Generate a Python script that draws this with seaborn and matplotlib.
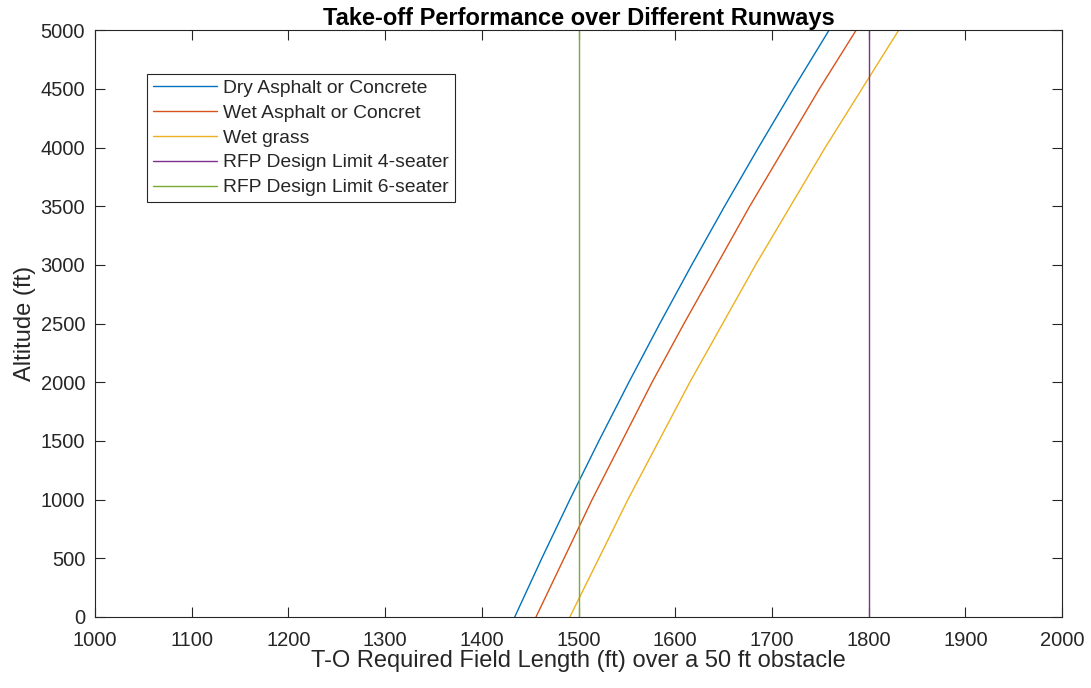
import matplotlib
matplotlib.use("Agg")
import matplotlib.pyplot as plt
import numpy as np
import pandas as pd
import seaborn as sns

# Altitude stations (ft)
altitude = [0, 500, 1000, 1500, 2000, 2500, 3000, 3500, 4000, 4500, 5000]

# Required take-off field length over a 50 ft obstacle (ft)
dry_asphalt = [1434, 1462, 1491, 1521, 1552, 1584, 1617, 1651, 1686, 1722, 1759]
wet_asphalt = [1456, 1485, 1514, 1545, 1576, 1609, 1643, 1677, 1713, 1749, 1787]
wet_grass = [1491, 1521, 1551, 1583, 1615, 1649, 1683, 1719, 1755, 1793, 1831]

# RFP design limits (ft)
limit_4_seater = 1800
limit_6_seater = 1500

series_names = [
    "Dry Asphalt or Concrete",
    "Wet Asphalt or Concret",
    "Wet grass",
    "RFP Design Limit 4-seater",
    "RFP Design Limit 6-seater",
]
colors = ["#0072BD", "#D95319", "#EDB120", "#7E2F8E", "#77AC30"]

frames = [
    pd.DataFrame({"length": dry_asphalt, "alt": altitude, "series": series_names[0]}),
    pd.DataFrame({"length": wet_asphalt, "alt": altitude, "series": series_names[1]}),
    pd.DataFrame({"length": wet_grass, "alt": altitude, "series": series_names[2]}),
    pd.DataFrame({"length": [limit_4_seater] * 2, "alt": [0, 5000], "series": series_names[3]}),
    pd.DataFrame({"length": [limit_6_seater] * 2, "alt": [0, 5000], "series": series_names[4]}),
]
df = pd.concat(frames, ignore_index=True)

sns.set_theme(style="white")
plt.rcParams["font.family"] = ["Liberation Sans", "DejaVu Sans"]

fig = plt.figure(figsize=(10.91, 6.88), dpi=100)
ax = fig.add_axes([0.087, 0.1032, 0.8866, 0.8530])

sns.lineplot(
    data=df, x="length", y="alt", hue="series", hue_order=series_names,
    palette=colors, estimator=None, sort=False, linewidth=1.0, ax=ax,
)

ax.set_xlim(1000, 2000)
ax.set_ylim(0, 5000)
ax.set_xticks(np.arange(1000, 2001, 100))
ax.set_yticks(np.arange(0, 5001, 500))

ax.set_title("Take-off Performance over Different Runways",
             fontsize=17, fontweight="bold", color="black", pad=4)
ax.set_xlabel("T-O Required Field Length (ft) over a 50 ft obstacle",
              fontsize=17, color="#262626", labelpad=0)
ax.set_ylabel("Altitude (ft)", fontsize=17, color="#262626", labelpad=3)

ax.tick_params(axis="both", which="major", direction="in", length=7, width=0.8,
               colors="#262626", labelsize=14.5, bottom=True, left=True,
               top=True, right=True, labelcolor="#262626")
ax.tick_params(axis="x", pad=10)
ax.tick_params(axis="y", pad=7)
for side in ax.spines.values():
    side.set_color("#262626")
    side.set_linewidth(0.8)

handles, labels = ax.get_legend_handles_labels()
leg = ax.legend(
    handles, labels, loc="upper left", bbox_to_anchor=(0.054, 0.926),
    borderaxespad=0, fontsize=13.9, frameon=True, fancybox=False,
    handlelength=3.3, handletextpad=0.33, labelspacing=0.38,
    borderpad=0.3, title=None,
)
leg.get_frame().set_edgecolor("#262626")
leg.get_frame().set_linewidth(0.8)
leg.get_frame().set_alpha(1.0)

fig.savefig("out.png", dpi=100, facecolor="white")
